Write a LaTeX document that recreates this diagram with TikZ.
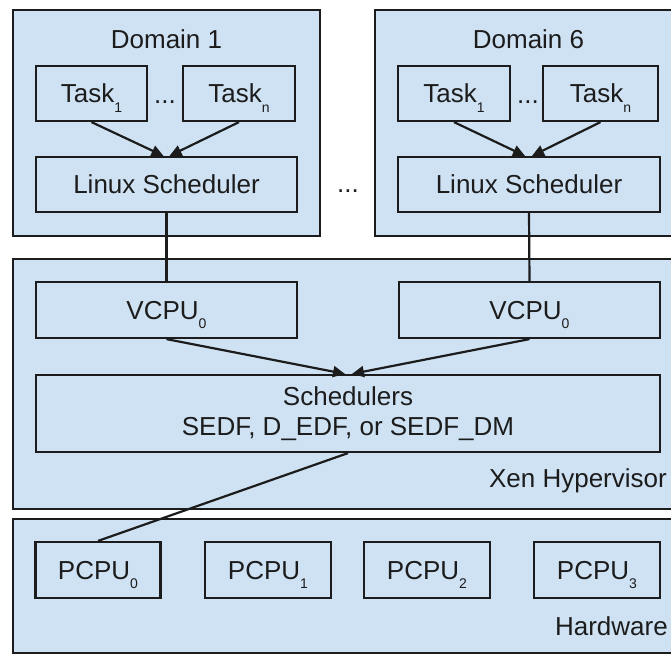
\documentclass[tikz,border=0pt]{standalone}
\usepackage{fontspec}
\setmainfont{Liberation Sans}
\usetikzlibrary{arrows.meta}
\definecolor{boxblue}{HTML}{CFE2F3}
\definecolor{ink}{HTML}{1C1C1C}
% index set below the baseline, as in Task_1, VCPU_0
\newcommand{\subidx}[1]{\raisebox{-9.5pt}{\fontsize{14}{14}\selectfont #1}}

\begin{document}
\begin{tikzpicture}[x=1pt, y=-1pt,
  every node/.append style={font=\fontsize{26}{30}\selectfont, text=ink},
  layer/.style={draw=ink, line width=2.4pt, fill=boxblue, inner sep=0pt},
  unit/.style={draw=ink, line width=2.2pt, inner sep=0pt,
               text height=18.6pt, text depth=0pt},
  lbl/.style={inner sep=0pt, anchor=base},
  link/.style={draw=ink, line width=2.2pt},
  flow/.style={link, -{Triangle[length=12pt,width=11pt]}}]

\useasboundingbox (0,0) rectangle (671,654);
\clip (0,0) rectangle (671,654);

% layers
\node[layer, minimum width=307pt, minimum height=226pt] (dom1) at (166.5,123) {};
\node[layer, minimum width=307pt, minimum height=226pt] (dom6) at (528.5,123) {};
\node[layer, minimum width=672pt, minimum height=250pt] (hyp) at (349,384) {};
\node[layer, minimum width=672pt, minimum height=134pt] (hw) at (349,586) {};

% layer titles
\node[lbl] (dom1t) at (166.5,48) {Domain 1};
\node[lbl] (dom6t) at (528.5,48) {Domain 6};
\node[lbl, anchor=base east] (hypt) at (667,487) {Xen Hypervisor};
\node[lbl, anchor=base east] (hwt) at (668,635) {Hardware};
\node[lbl] (gap) at (348,192) {...};

% domain 1
\node[unit, minimum width=111pt, minimum height=55pt] (t11) at (91.5,93.5) {Task\subidx{1}};
\node[unit, minimum width=112pt, minimum height=55pt] (t1n) at (239,93.5) {Task\subidx{n}};
\node[lbl] (d1dots) at (165,103) {...};
\node[unit, minimum width=261pt, minimum height=55pt] (ls1) at (166.5,184.5) {Linux Scheduler};

% domain 6
\node[unit, minimum width=112pt, minimum height=55pt] (t61) at (454,93.5) {Task\subidx{1}};
\node[unit, minimum width=115pt, minimum height=55pt] (t6n) at (600.5,93.5) {Task\subidx{n}};
\node[lbl] (d6dots) at (528,103) {...};
\node[unit, minimum width=262pt, minimum height=55pt] (ls6) at (529,184.5) {Linux Scheduler};

% hypervisor
\node[unit, minimum width=261pt, minimum height=56pt] (vc1) at (166.5,310) {VCPU\subidx{0}};
\node[unit, minimum width=261pt, minimum height=56pt] (vc6) at (529.5,310) {VCPU\subidx{0}};
\node[draw=ink, line width=2.2pt, inner sep=0pt, align=center,
      minimum width=624pt, minimum height=77pt] (sched) at (348,413.5)
      {Schedulers\\SEDF, D\_EDF, or SEDF\_DM};

% hardware
\node[unit, minimum width=125pt, minimum height=56pt] (p0) at (98,570) {PCPU\subidx{0}};
\node[unit, minimum width=126pt, minimum height=56pt] (p1) at (268,570) {PCPU\subidx{1}};
\node[unit, minimum width=126pt, minimum height=56pt] (p2) at (427,570) {PCPU\subidx{2}};
\node[unit, minimum width=126pt, minimum height=56pt] (p3) at (597,570) {PCPU\subidx{3}};

% connectors
\draw[flow] (t11.south) -- ([xshift=-3pt]ls1.north);
\draw[flow] (t1n.south) -- ([xshift=3pt]ls1.north);
\draw[flow] (t61.south) -- ([xshift=-4pt]ls6.north);
\draw[flow] (t6n.south) -- ([xshift=3pt]ls6.north);
\draw[link] (ls1.south) -- (vc1.north);
\draw[link] (ls6.south) -- (vc6.north);
\draw[flow] (vc1.south) -- ([xshift=-3pt]sched.north);
\draw[flow] (vc6.south) -- ([xshift=4pt]sched.north);
\draw[link] (sched.south) -- (p0.north);
\end{tikzpicture}
\end{document}
